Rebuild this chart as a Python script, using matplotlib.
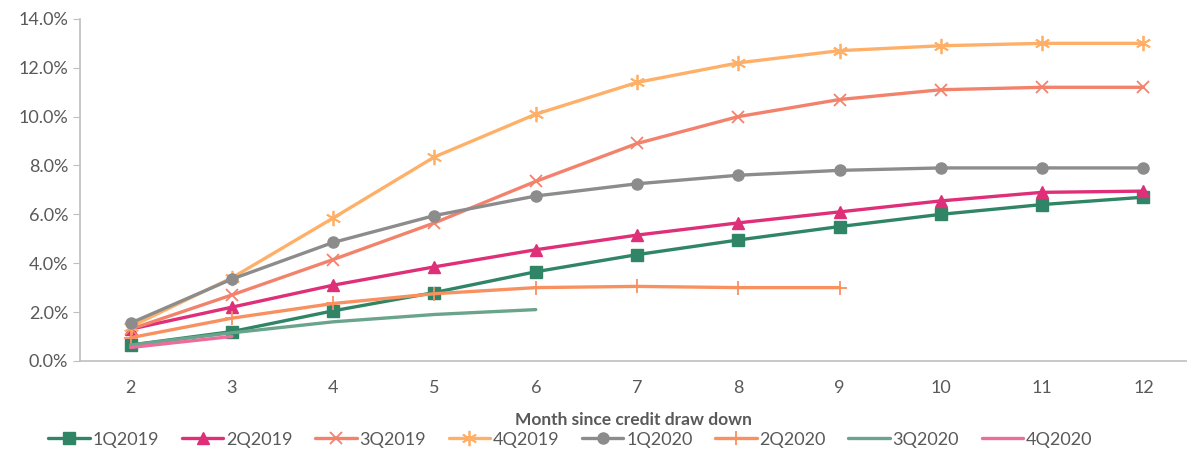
import matplotlib.pyplot as plt
from matplotlib.ticker import PercentFormatter

plt.rcParams['font.family'] = ['Lato', 'DejaVu Sans']

months = [2, 3, 4, 5, 6, 7, 8, 9, 10, 11, 12]

q1_2019 = [0.65, 1.2, 2.05, 2.8, 3.65, 4.35, 4.95, 5.5, 6.0, 6.4, 6.7]
q2_2019 = [1.3, 2.2, 3.1, 3.85, 4.55, 5.15, 5.65, 6.1, 6.55, 6.9, 6.95]
q3_2019 = [1.3, 2.7, 4.15, 5.65, 7.35, 8.9, 10.0, 10.7, 11.1, 11.2, 11.2]
q4_2019 = [1.4, 3.4, 5.85, 8.35, 10.1, 11.4, 12.2, 12.7, 12.9, 13.0, 13.0]
q1_2020 = [1.55, 3.35, 4.85, 5.95, 6.75, 7.25, 7.6, 7.8, 7.9, 7.9, 7.9]
q2_2020 = [0.95, 1.75, 2.35, 2.75, 3.0, 3.05, 3.0, 3.0]
q3_2020 = [0.65, 1.15, 1.6, 1.9, 2.1]
q4_2020 = [0.55, 1.0]

series = [
    ('1Q2019', q1_2019, '#2f8566', 's', 8),
    ('2Q2019', q2_2019, '#de2f78', '^', 8),
    ('3Q2019', q3_2019, '#f2826c', 'x', 9),
    ('4Q2019', q4_2019, '#ffb068', (6, 2, 0), 11),
    ('1Q2020', q1_2020, '#8c8c8c', 'o', 8),
    ('2Q2020', q2_2020, '#f8915f', '+', 10),
    ('3Q2020', q3_2020, '#6ba48c', None, 0),
    ('4Q2020', q4_2020, '#ee6c9c', None, 0),
]

fig = plt.figure(figsize=(11.87, 4.5), dpi=100)
ax = fig.add_axes([0.0674, 0.198, 0.9326, 0.76])

for name, vals, color, marker, ms in series:
    ax.plot(months[:len(vals)], vals, color=color, lw=2.4, marker=marker,
            markersize=ms, markeredgewidth=1.3 if marker in ('x', '+', (6, 2, 0)) else 1,
            label=name, solid_capstyle='round')

ax.set_xlim(1.5, 12.43)
ax.set_ylim(0, 14)
ax.set_yticks([0, 2, 4, 6, 8, 10, 12, 14])
ax.yaxis.set_major_formatter(PercentFormatter(decimals=1))
ax.set_xticks(months)

for side in ['top', 'right']:
    ax.spines[side].set_visible(False)
for side in ['left', 'bottom']:
    ax.spines[side].set_color('#bfbfbf')
    ax.spines[side].set_linewidth(1.2)

ax.tick_params(axis='y', colors='#bfbfbf', labelcolor='#595959', labelsize=13, length=5)
ax.tick_params(axis='x', length=0, labelcolor='#595959', labelsize=13, pad=14)

ax.set_xlabel('Month since credit draw down', fontsize=12.5, fontweight='bold',
              color='#595959', labelpad=11)

ax.legend(loc='center', bbox_to_anchor=(0.443, -0.23), ncol=8, frameon=False,
          fontsize=13, labelcolor='#595959', handlelength=2.3, handletextpad=0.15,
          columnspacing=1.25, borderpad=0)

fig.savefig('out.png', dpi=100)
